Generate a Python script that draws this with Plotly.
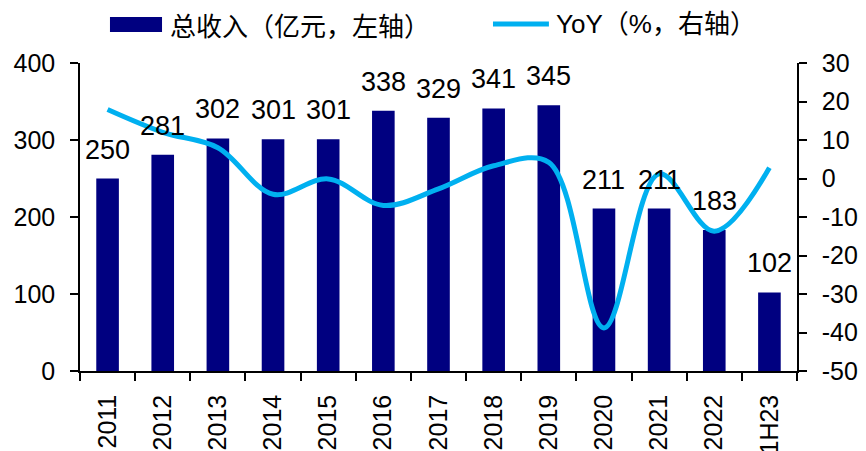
import plotly.graph_objects as go

categories = ["2011", "2012", "2013", "2014", "2015", "2016", "2017",
              "2018", "2019", "2020", "2021", "2022", "1H23"]
revenue = [250, 281, 302, 301, 301, 338, 329, 341, 345, 211, 211, 183, 102]
yoy = [17.9, 12.0, 8.0, -4.1, -0.1, -7.0, -2.7, 3.3, 4.2, -38.8, 1.2, -13.7, 2.8]
left_ticks = [0, 100, 200, 300, 400]
right_ticks = [-50, -40, -30, -20, -10, 0, 10, 20, 30]
right_tick_text = ["-50", "-40", "-30", "-20", "-10", "0", "10", "20", "30"]
legend_bar = "总收入（亿元，左轴）"
legend_line = "YoY（%，右轴）"

BAR = "#000080"
LINE = "#00B0F0"
FONT = "Liberation Sans, Arial, Noto Sans CJK SC"

fig = go.Figure()
fig.add_trace(go.Bar(
    x=categories, y=revenue, marker=dict(color=BAR, line=dict(width=0)),
    yaxis="y", showlegend=False, hoverinfo="skip"))
fig.add_trace(go.Scatter(
    x=categories, y=yoy, mode="lines",
    line=dict(color=LINE, width=5, shape="spline", smoothing=1.0),
    yaxis="y2", showlegend=False, hoverinfo="skip"))

# data labels (category axis annotations use the category serial number)
for i, v in enumerate(revenue):
    fig.add_annotation(x=i, y=v, xref="x", yref="y", text=str(v),
                       showarrow=False, yanchor="bottom", yshift=12,
                       font=dict(family=FONT, size=27, color="black"))

# legend drawn manually
fig.add_shape(type="rect", xref="paper", yref="paper",
              x0=0.0418, x1=0.1144, y0=1.1006, y1=1.149,
              fillcolor=BAR, line=dict(width=0))
fig.add_shape(type="line", xref="paper", yref="paper",
              x0=0.576, x1=0.654, y0=1.1266, y1=1.1266,
              line=dict(color=LINE, width=5))
fig.add_annotation(xref="paper", yref="paper", x=0.1227, y=1.1266,
                   xanchor="left", yanchor="middle", text=legend_bar,
                   showarrow=False,
                   font=dict(family="Noto Sans CJK SC", size=26, color="black"))
fig.add_annotation(xref="paper", yref="paper", x=0.661, y=1.1266,
                   xanchor="left", yanchor="middle", text=legend_line,
                   showarrow=False,
                   font=dict(family=FONT, size=26, color="black"))

axis_common = dict(showgrid=False, zeroline=False, showline=True,
                   linecolor="black", linewidth=1.5, ticks="outside",
                   ticklen=8, tickwidth=1.5, tickcolor="black", automargin=False,
                   tickfont=dict(family=FONT, size=25, color="black"))

fig.update_layout(
    width=866, height=451,
    margin=dict(l=80, r=69, t=63, b=80, autoexpand=False),
    paper_bgcolor="white", plot_bgcolor="white",
    bargap=0.59,
    xaxis=dict(type="category", categoryorder="array", categoryarray=categories,
               range=[-0.5, len(categories) - 0.5], tickangle=-90,
               tickson="boundaries", ticklabelstandoff=12, **axis_common),
    yaxis=dict(range=[0, 400], tickvals=left_ticks, ticklabelstandoff=10,
               **axis_common),
    yaxis2=dict(range=[-50, 30], tickvals=right_ticks, ticktext=right_tick_text,
                overlaying="y", side="right", ticklabelstandoff=10,
                **axis_common),
)

fig.write_html("out.html", config={"displayModeBar": False},
               post_script="document.body.style.margin='0';document.body.style.overflow='hidden';")
